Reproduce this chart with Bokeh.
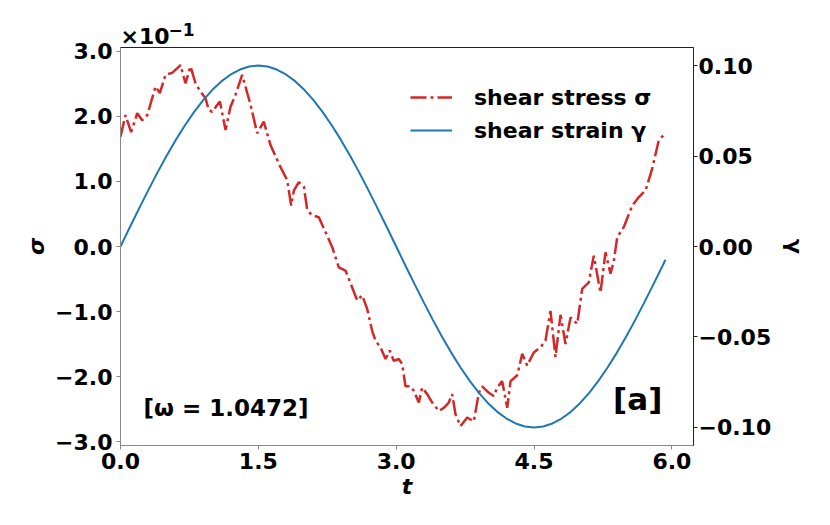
from bokeh.plotting import figure
from bokeh.models import Range1d, LinearAxis, FixedTicker, CustomJSTickFormatter, Label, Legend, LegendItem
from bokeh.embed import file_html
from bokeh.resources import INLINE

# ---- data ----
t_sigma = [0.000, 0.054, 0.116, 0.182, 0.236, 0.291, 0.345, 0.381, 0.428, 0.490,
           0.563, 0.653, 0.707, 0.762, 0.816, 0.871, 0.925, 0.961, 0.998, 1.081,
           1.143, 1.197, 1.251, 1.324, 1.379, 1.415, 1.487, 1.559, 1.632, 1.741,
           1.814, 1.857, 1.886, 1.940, 1.995, 2.032, 2.086, 2.158, 2.231, 2.304,
           2.375, 2.448, 2.521, 2.576, 2.630, 2.684, 2.739, 2.775, 2.829, 2.884,
           2.930, 2.974, 3.028, 3.065, 3.101, 3.156, 3.192, 3.246, 3.283, 3.337,
           3.392, 3.464, 3.518, 3.572, 3.609, 3.645, 3.700, 3.773, 3.844, 3.899,
           3.936, 4.008, 4.062, 4.099, 4.153, 4.208, 4.244, 4.317, 4.371, 4.425,
           4.497, 4.570, 4.624, 4.679, 4.733, 4.788, 4.842, 4.897, 4.970, 5.024,
           5.096, 5.150, 5.223, 5.277, 5.332, 5.368, 5.405, 5.477, 5.568, 5.640,
           5.713, 5.786, 5.858, 5.930]
# shear stress in units of 1e-1
sigma_e1 = [1.69, 2.02, 1.76, 2.05, 1.94, 2.02, 2.28, 2.46, 2.36, 2.64,
            2.67, 2.79, 2.51, 2.77, 2.51, 2.38, 2.28, 2.10, 2.07, 2.23,
            1.79, 2.15, 2.33, 2.64, 2.36, 2.18, 1.74, 1.92, 1.56, 1.22,
            1.02, 0.63, 0.86, 0.99, 0.92, 0.56, 0.48, 0.45, 0.22, -0.01,
            -0.32, -0.37, -0.63, -0.83, -0.75, -0.96, -1.30, -1.45, -1.55, -1.73,
            -1.60, -1.76, -1.73, -1.81, -2.15, -2.15, -2.22, -2.40, -2.17, -2.27,
            -2.40, -2.53, -2.48, -2.40, -2.27, -2.58, -2.76, -2.63, -2.69, -2.25,
            -2.15, -2.25, -2.30, -2.17, -2.07, -2.48, -2.07, -1.98, -1.65, -1.83,
            -1.63, -1.55, -1.45, -0.99, -1.70, -1.05, -1.50, -1.09, -1.19, -0.65,
            -0.55, -0.14, -0.71, -0.09, -0.42, -0.22, 0.14, 0.30, 0.63, 0.76,
            0.86, 1.20, 1.64, 1.74]

t_gamma = [0.0, 0.1, 0.2, 0.3, 0.4, 0.5, 0.6, 0.7, 0.8, 0.9,
           1.0, 1.1, 1.2, 1.3, 1.4, 1.5, 1.6, 1.7, 1.8, 1.9,
           2.0, 2.1, 2.2, 2.3, 2.4, 2.5, 2.6, 2.7, 2.8, 2.9,
           3.0, 3.1, 3.2, 3.3, 3.4, 3.5, 3.6, 3.7, 3.8, 3.9,
           4.0, 4.1, 4.2, 4.3, 4.4, 4.5, 4.6, 4.7, 4.8, 4.9,
           5.0, 5.1, 5.2, 5.3, 5.4, 5.5, 5.6, 5.7, 5.8, 5.9, 5.93]
gamma = [0.0, 0.0105, 0.0208, 0.0309, 0.0407, 0.0500, 0.0588, 0.0669, 0.0743, 0.0809,
         0.0866, 0.0914, 0.0951, 0.0978, 0.0995, 0.1000, 0.0995, 0.0978, 0.0951, 0.0914,
         0.0866, 0.0809, 0.0743, 0.0669, 0.0588, 0.0500, 0.0407, 0.0309, 0.0208, 0.0105,
         0.0, -0.0105, -0.0208, -0.0309, -0.0407, -0.0500, -0.0588, -0.0669, -0.0743, -0.0809,
         -0.0866, -0.0914, -0.0951, -0.0978, -0.0995, -0.1000, -0.0995, -0.0978, -0.0951, -0.0914,
         -0.0866, -0.0809, -0.0743, -0.0669, -0.0588, -0.0500, -0.0407, -0.0309, -0.0208, -0.0105,
         -0.0073]

x_ticks = [0.0, 1.5, 3.0, 4.5, 6.0]
sigma_ticks = [-3.0, -2.0, -1.0, 0.0, 1.0, 2.0, 3.0]
gamma_ticks = [-0.10, -0.05, 0.0, 0.05, 0.10]
legend_labels = ["shear stress σ", "shear strain γ"]
omega_text = "[ω = 1.0472]"
panel_text = "[a]"
offset_base = "×10"
offset_exp = "−1"

FONT = "DejaVu Sans"
FS = "22px"

p = figure(width=822, height=517, output_backend="svg", toolbar_location=None,
           x_range=Range1d(0, 6.235), y_range=Range1d(-3.06, 3.06),
           min_border_left=120, min_border_right=129, min_border_top=47, min_border_bottom=72)
p.extra_y_ranges = {"gamma": Range1d(-0.11, 0.11)}
p.grid.visible = False
p.outline_line_color = "#222222"
p.outline_line_width = 1
p.background_fill_color = "white"

fmt1 = CustomJSTickFormatter(code="return (tick < -1e-9 ? '\u2212' : '') + Math.abs(tick).toFixed(1);")
fmt2 = CustomJSTickFormatter(code="return (tick < -1e-9 ? '\u2212' : '') + Math.abs(tick).toFixed(2);")

def style_axis(ax, color):
    ax.axis_line_color = color
    ax.major_tick_line_color = color
    ax.major_tick_out = 4
    ax.major_tick_in = 0
    ax.minor_tick_line_color = None
    ax.major_label_text_font = FONT
    ax.major_label_text_font_size = FS
    ax.major_label_text_font_style = "bold"
    ax.major_label_text_color = "black"
    ax.axis_label_text_font = FONT
    ax.axis_label_text_font_size = FS
    ax.axis_label_text_color = "black"

xa = p.xaxis[0]
xa.ticker = FixedTicker(ticks=x_ticks)
xa.formatter = fmt1
xa.axis_label = "t"
style_axis(xa, "#888888")
xa.axis_label_text_font_style = "bold italic"
xa.major_label_standoff = 3
xa.axis_label_standoff = 2

ya = p.yaxis[0]
ya.ticker = FixedTicker(ticks=sigma_ticks)
ya.formatter = fmt1
ya.axis_label = "σ"
style_axis(ya, "#888888")
ya.axis_label_text_font_style = "bold italic"
ya.major_label_standoff = 4
ya.axis_label_standoff = 3

ra = LinearAxis(y_range_name="gamma", ticker=FixedTicker(ticks=gamma_ticks), formatter=fmt2,
                axis_label="γ")
style_axis(ra, "#222222")
ra.axis_label_text_font_style = "bold"
ra.major_label_standoff = 1
ra.axis_label_standoff = 8
p.add_layout(ra, "right")

# axis multiplier text "×10^-1" above the frame
p.add_layout(Label(x=0, y=11, x_units="screen", y_units="screen", text=offset_base,
                   text_font=FONT, text_font_size="22px", text_font_style="bold",
                   text_baseline="alphabetic", text_align="left", text_color="black"), "above")
p.add_layout(Label(x=48, y=-7, x_units="screen", y_units="screen", text=offset_exp,
                   text_font=FONT, text_font_size="17px", text_font_style="bold",
                   text_baseline="alphabetic", text_align="left", text_color="black"), "above")

r_sig = p.line(t_sigma, sigma_e1, line_color="#d62728", line_width=2.5, line_dash="16 4 3 4")
r_gam = p.line(t_gamma, gamma, line_color="#1f77b4", line_width=2, y_range_name="gamma")

legend = Legend(items=[LegendItem(label=legend_labels[0], renderers=[r_sig]),
                       LegendItem(label=legend_labels[1], renderers=[r_gam])],
                location=(290, 300))
legend.label_text_font = FONT
legend.label_text_font_size = FS
legend.label_text_font_style = "bold"
legend.label_text_color = "black"
legend.border_line_color = None
legend.background_fill_alpha = 0
legend.glyph_width = 42
legend.glyph_height = 30
legend.label_height = 30
legend.label_standoff = 22
legend.spacing = 3
legend.padding = 0
legend.margin = 0
p.add_layout(legend, "center")

p.add_layout(Label(x=0.25, y=-2.49, text=omega_text, text_font=FONT, text_font_size="23px",
                   text_font_style="bold", text_baseline="middle", text_align="left",
                   text_color="black"))
p.add_layout(Label(x=5.36, y=-2.34, text=panel_text, text_font=FONT, text_font_size="31px",
                   text_font_style="bold", text_baseline="middle", text_align="left",
                   text_color="black"))

open("out.html", "w").write(file_html(p, INLINE))
